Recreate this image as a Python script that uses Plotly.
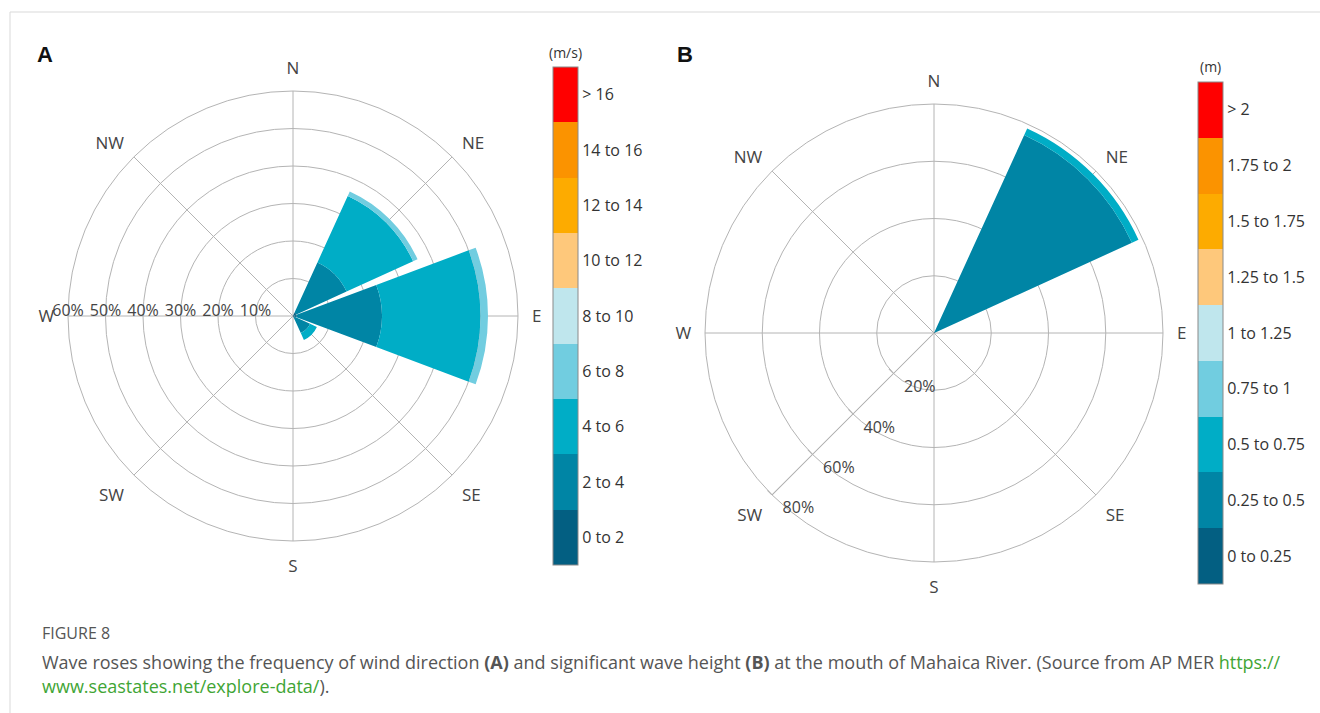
import plotly.graph_objects as go

# ---------------- data ----------------
directions = ["N", "NE", "E", "SE", "S", "SW", "W", "NW"]
dir_angles = [0, 45, 90, 135, 180, 225, 270, 315]

wind_bins = ["0 to 2", "2 to 4", "4 to 6", "6 to 8", "8 to 10",
             "10 to 12", "12 to 14", "14 to 16", "> 16"]
wave_bins = ["0 to 0.25", "0.25 to 0.5", "0.5 to 0.75", "0.75 to 1", "1 to 1.25",
             "1.25 to 1.5", "1.5 to 1.75", "1.75 to 2", "> 2"]
bin_colors = ["#035f82", "#0085a5", "#00adc6", "#71cde0", "#bfe6ed",
              "#fec87b", "#fdab00", "#fb9300", "#ff0000"]

# wind speed frequency (%) per direction (N, NE, E, SE, S, SW, W, NW)
wind_0_2 = [0, 1.0, 1.0, 0.5, 0, 0, 0, 0]
wind_2_4 = [0, 14.7, 22.7, 4.5, 0, 0, 0, 0]
wind_4_6 = [0, 19.5, 26.3, 2.0, 0, 0, 0, 0]
wind_6_8 = [0, 1.3, 2.0, 0, 0, 0, 0, 0]
wind_8_10 = [0, 0, 0, 0, 0, 0, 0, 0]
wind_10_12 = [0, 0, 0, 0, 0, 0, 0, 0]
wind_12_14 = [0, 0, 0, 0, 0, 0, 0, 0]
wind_14_16 = [0, 0, 0, 0, 0, 0, 0, 0]
wind_16p = [0, 0, 0, 0, 0, 0, 0, 0]

# significant wave height frequency (%) per direction
wave_0_025 = [0, 0.5, 0, 0, 0, 0, 0, 0]
wave_025_05 = [0, 75.5, 0, 0, 0, 0, 0, 0]
wave_05_075 = [0, 2.5, 0, 0, 0, 0, 0, 0]
wave_075_1 = [0, 0, 0, 0, 0, 0, 0, 0]
wave_1_125 = [0, 0, 0, 0, 0, 0, 0, 0]
wave_125_15 = [0, 0, 0, 0, 0, 0, 0, 0]
wave_15_175 = [0, 0, 0, 0, 0, 0, 0, 0]
wave_175_2 = [0, 0, 0, 0, 0, 0, 0, 0]
wave_2p = [0, 0, 0, 0, 0, 0, 0, 0]

wind_ticks = [10, 20, 30, 40, 50, 60]
wind_ticktext = ["10%", "20%", "30%", "40%", "50%", "60%"]
wave_ticks = [20, 40, 60, 80]
wave_ticktext = ["20%", "40%", "60%", "80%"]

wind_values = [wind_0_2, wind_2_4, wind_4_6, wind_6_8, wind_8_10,
               wind_10_12, wind_12_14, wind_14_16, wind_16p]
wave_values = [wave_0_025, wave_025_05, wave_05_075, wave_075_1, wave_1_125,
               wave_125_15, wave_15_175, wave_175_2, wave_2p]

# ---------------- style ----------------
W, H = 1320, 713
FONT = "Open Sans"
GRID = "#b4b4b4"
TXT = "#444444"
SECTOR_W = 41

fig = go.Figure()

for name, vals, col in zip(wind_bins, wind_values, bin_colors):
    fig.add_trace(go.Barpolar(r=vals, theta=dir_angles, width=[SECTOR_W] * len(vals),
                              name=name, marker_color=col, marker_line_width=0,
                              subplot="polar", showlegend=False))
for name, vals, col in zip(wave_bins, wave_values, bin_colors):
    fig.add_trace(go.Barpolar(r=vals, theta=dir_angles, width=[SECTOR_W] * len(vals),
                              name=name, marker_color=col, marker_line_width=0,
                              subplot="polar2", showlegend=False))

# discrete colour scale for the legends
nb = len(bin_colors)
cscale = []
for i, c in enumerate(bin_colors):
    cscale.append([i / nb, c])
    cscale.append([(i + 1) / nb, c])
centers = [i + 0.5 for i in range(nb)]


def cbar(x_px, top_px, bottom_px, labels):
    return dict(x=x_px / W, xanchor="left", xpad=0,
                y=(H - bottom_px) / H, yanchor="bottom", ypad=0,
                lenmode="pixels", len=bottom_px - top_px,
                thicknessmode="pixels", thickness=25,
                outlinewidth=1, outlinecolor="#8a8a8a",
                tickmode="array", tickvals=centers, ticktext=labels,
                ticks="", tickfont=dict(family=FONT, size=16, color="#333333"))


fig.add_trace(go.Scatterpolar(r=[0], theta=[0], mode="markers", subplot="polar",
                              hoverinfo="skip", showlegend=False,
                              marker=dict(size=1, opacity=0, color=[0], cmin=0, cmax=nb,
                                          colorscale=cscale, showscale=True,
                                          colorbar=cbar(553, 67, 565, wind_bins))))
fig.add_trace(go.Scatterpolar(r=[0], theta=[0], mode="markers", subplot="polar2",
                              hoverinfo="skip", showlegend=False,
                              marker=dict(size=1, opacity=0, color=[0], cmin=0, cmax=nb,
                                          colorscale=cscale, showscale=True,
                                          colorbar=cbar(1198, 82, 584, wave_bins))))


def ang_axis(tickvals):
    return dict(direction="clockwise", rotation=90, thetaunit="degrees",
                tickmode="array", tickvals=tickvals, ticktext=directions,
                showline=True, linecolor=GRID, linewidth=1,
                showgrid=True, gridcolor=GRID, gridwidth=1,
                ticks="outside", ticklen=10, tickcolor="rgba(0,0,0,0)",
                tickfont=dict(family=FONT, size=17, color=TXT))


def dom(cx, cy, r):
    return dict(x=[(cx - r) / W, (cx + r) / W], y=[(H - cy - r) / H, (H - cy + r) / H])


# panel A uses a full-circle sector expressed as [-180, 180] (so its radial labels along W
# read left-to-right); its angular tick values are expressed in that same span
dir_angles_pm = [a if a <= 180 else a - 360 for a in dir_angles]

fig.update_layout(
    width=W, height=H,
    margin=dict(l=0, r=0, t=0, b=0),
    paper_bgcolor="white",
    font=dict(family=FONT, color=TXT),
    polar=dict(domain=dom(293, 316, 225), bgcolor="white", barmode="stack",
               sector=[-180, 180],
               angularaxis=ang_axis(dir_angles_pm),
               radialaxis=dict(range=[0, 60], tickmode="array", tickvals=wind_ticks,
                               ticktext=wind_ticktext, angle=180,
                               showline=False,
                               showgrid=True, gridcolor=GRID, gridwidth=1, ticks="",
                               tickfont=dict(family=FONT, size=16, color=TXT))),
    polar2=dict(domain=dom(934, 333, 229), bgcolor="white", barmode="stack",
                angularaxis=ang_axis(dir_angles),
                radialaxis=dict(range=[0, 80], tickmode="array", tickvals=wave_ticks,
                                ticktext=wave_ticktext, angle=225, tickangle=225,
                                side="counterclockwise",
                                showline=True, linecolor=GRID, linewidth=1,
                                showgrid=True, gridcolor=GRID, gridwidth=1, ticks="inside",
                                ticklen=6, tickcolor=GRID,
                                tickfont=dict(family=FONT, size=16, color=TXT))),
)

# panel letters, legend titles, caption
ann = [
    dict(x=45 / W, y=(H - 55) / H, text="<b>A</b>", font=dict(family="Liberation Sans", size=22, color="#111")),
    dict(x=685 / W, y=(H - 55) / H, text="<b>B</b>", font=dict(family="Liberation Sans", size=22, color="#111")),
    dict(x=565 / W, y=(H - 52) / H, text="(m/s)", font=dict(family=FONT, size=14, color="#333")),
    dict(x=1210 / W, y=(H - 66) / H, text="(m)", font=dict(family=FONT, size=14, color="#333")),
]
for a in ann:
    a.update(xref="paper", yref="paper", showarrow=False, xanchor="center", yanchor="middle")
    fig.add_annotation(**a)

cap = [
    (633, "FIGURE 8", 16),
    (662, "Wave roses showing the frequency of wind direction <b>(A)</b> and significant wave height "
          "<b>(B)</b> at the mouth of Mahaica River. (Source from AP MER "
          "<span style='color:#3fa535'>https://</span>", 18),
    (686, "<span style='color:#3fa535'>www.seastates.net/explore-data/</span>).", 18),
]
for ypx, txt, sz in cap:
    fig.add_annotation(x=40 / W, y=(H - ypx) / H, xref="paper", yref="paper", text=txt,
                       showarrow=False, xanchor="left", yanchor="middle",
                       font=dict(family=FONT, size=sz, color="#555555"))

# thin page border (top and left)
fig.add_shape(type="line", xref="paper", yref="paper", x0=10 / W, x1=1, y0=(H - 12) / H, y1=(H - 12) / H,
              line=dict(color="#d9d9d9", width=1))
fig.add_shape(type="line", xref="paper", yref="paper", x0=10 / W, x1=10 / W, y0=0, y1=(H - 12) / H,
              line=dict(color="#d9d9d9", width=1))

fig.write_html("out.html", config={"displayModeBar": False},
               post_script="document.body.style.margin='0px';")
